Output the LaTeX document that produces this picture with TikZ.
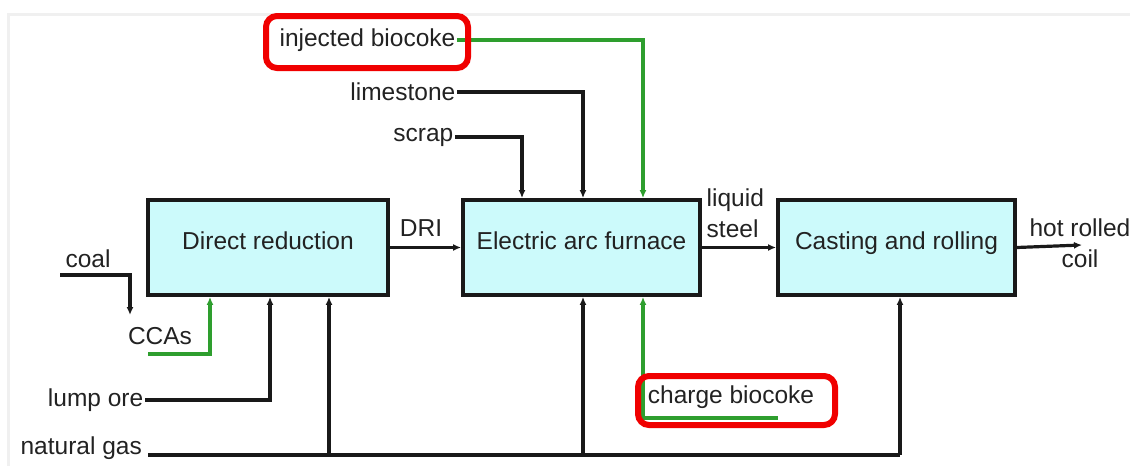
\documentclass[tikz,border=0pt]{standalone}
\usepackage{fontspec}
\setmainfont{Liberation Sans}
\usetikzlibrary{arrows.meta}
\definecolor{boxfill}{HTML}{CCFAFB}
\definecolor{flowgreen}{HTML}{2E9E2E}
\definecolor{txt}{HTML}{222222}
\definecolor{hl}{HTML}{F00000}
\tikzset{
  procbox/.style={draw=black!90, line width=3.8pt, fill=boxfill, minimum height=95pt,
     text height=0.75em, text depth=0.45em, font=\fontsize{24.5}{28}\selectfont, text=txt, inner sep=0pt},
  lbl/.style={font=\fontsize{24.5}{28}\selectfont, text=txt, inner sep=1.5pt},
  flow/.style={line width=3.2pt, draw=black!90, -{Latex[length=8pt,width=7pt]}},
  gflow/.style={line width=3.2pt, draw=flowgreen, -{Latex[length=8pt,width=7pt]}},
  pipe/.style={line width=3.2pt, draw=black!90},
  redbox/.style={draw=hl, line width=6pt, rounded corners=11pt},
}
\begin{document}
\begin{tikzpicture}[x=1pt,y=-1pt]
\useasboundingbox (0,0) rectangle (1130,466);
% faint screenshot frame
\draw[black!6, line width=3pt] (8,466) -- (8,14) -- (1130,14);

% process boxes
\node[procbox, minimum width=240pt] (dr)  at (268,247.5) {Direct reduction};
\node[procbox, minimum width=237pt] (eaf) at (581.5,247.5) {Electric arc furnace};
\node[procbox, minimum width=237pt] (cr)  at (896.5,247.5) {Casting and rolling};

% labels
\node[lbl, anchor=east] (inj) at (457,40) {injected biocoke};
\node[lbl, anchor=east] (lime) at (457,92) {limestone};
\node[lbl, anchor=east] (scrap) at (455,137) {scrap};
\node[lbl] (coal) at (88,259) {coal};
\node[lbl] (ccas) at (160,336) {CCAs};
\node[lbl, anchor=east] (lump) at (145,400) {lump ore};
\node[lbl, anchor=east, inner xsep=6pt] (ng) at (148,448) {natural gas};
\node[lbl] (dri) at (421,228) {DRI};
\node[lbl, align=left, anchor=west, font=\fontsize{24.5}{31}\selectfont] (liq) at (705,213) {liquid\\steel};
\node[lbl, align=center, font=\fontsize{24.5}{31}\selectfont] (hrc) at (1080,243) {hot rolled\\coil};
\node[lbl] (cbio) at (731,397) {charge biocoke};

% connector coordinates
\coordinate (coalA) at (60,275);
\coordinate (coalB) at (130,315);
\coordinate (ccaA) at (148,354);
\coordinate (hrcEnd) at (1082,245);
\coordinate (ngR) at (900,455);
\coordinate (cbA) at (778,418);
\coordinate (cbB) at (643,418);

% inputs to direct reduction
\draw[flow] (coalA) -| (coalB);
\draw[gflow] (ccaA) -| (dr.south west -| 210,0);
\draw[flow] (lump.east) -| (dr.south west -| 270,0);
\draw[pipe] (ng.east |- ngR) -- (ngR);
\draw[flow] (ngR) -- (cr.south -| ngR);
\draw[flow] (ngR -| 329,0) -- (dr.south -| 329,0);
\draw[flow] (ngR -| 583,0) -- (eaf.south -| 583,0);

% inputs to EAF
\draw[gflow] (inj.east) -| (eaf.north -| 643,0);
\draw[flow] (lime.east) -| (eaf.north -| 583,0);
\draw[flow] (scrap.east) -| (eaf.north -| 522,0);
\draw[gflow] (cbA) -- (cbB) -- (eaf.south -| cbB);

% main flow
\draw[flow] (dr.east) -- (eaf.west);
\draw[flow] (eaf.east) -- (cr.west);
\draw[flow] (cr.east) -- (hrcEnd);

% highlights
\draw[redbox] (266,16) rectangle (468,68);
\draw[redbox] (638,376) rectangle (835,425);
\end{tikzpicture}
\end{document}
